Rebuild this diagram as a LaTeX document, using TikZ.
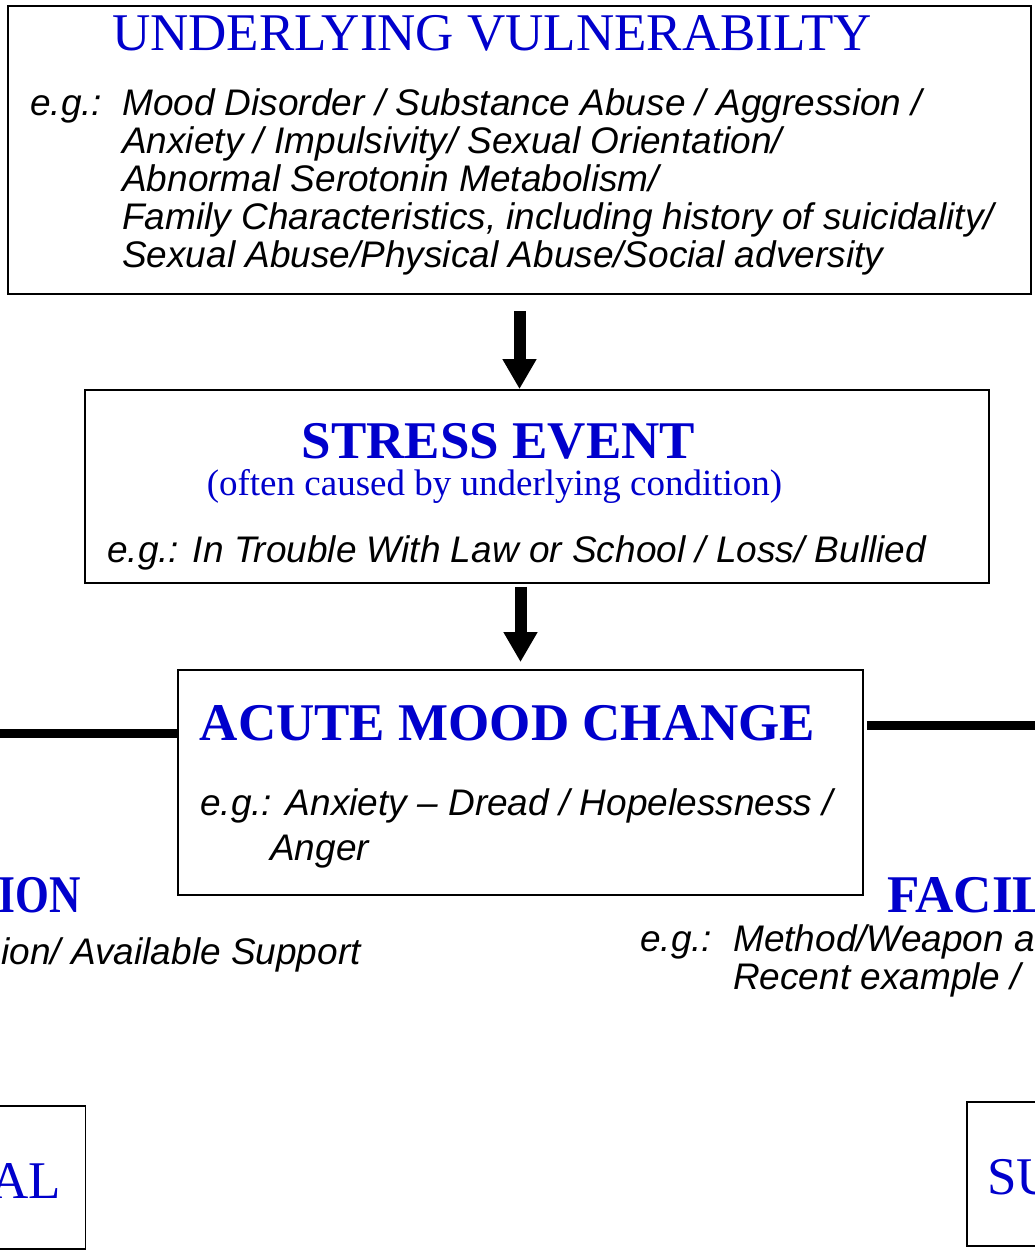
\documentclass[tikz,border=0pt]{standalone}
\usepackage{fontspec}
\usetikzlibrary{arrows.meta}
\newfontfamily\headfont{Liberation Serif}
\newfontfamily\bodyfont{Liberation Sans}
\definecolor{headblue}{RGB}{0,0,204}
\tikzset{
    box/.style={draw, rectangle, line width=1.8pt, inner sep=0pt},
    head/.style={font=\headfont\fontsize{53}{60}\selectfont\bfseries, text=headblue, inner sep=0pt},
    headlight/.style={font=\headfont\fontsize{53}{60}\selectfont, text=headblue, inner sep=0pt},
    sub/.style={font=\headfont\fontsize{37}{44}\selectfont, text=headblue, inner sep=0pt},
    body/.style={font=\bodyfont\itshape\fontsize{37}{44}\selectfont, inner sep=0pt},
    bigarrow/.style={line width=12pt, -{Triangle[width=32pt,length=30pt]}},
    bar/.style={line width=9.5pt},
}
\begin{document}
\begin{tikzpicture}[x=1pt,y=-1pt]
        \path[use as bounding box, clip] (0,0) rectangle (1035,1251);
        % boxes
        \node[box, line width=2.4pt, minimum width=1023pt, minimum height=288pt] (vuln) at (519.5,150) {};
        \node[box, minimum width=904pt, minimum height=193pt] (stress) at (537,486.5) {};
        \node[box, minimum width=685pt, minimum height=225pt] (mood) at (520.5,782.5) {};
        \node[box, minimum width=100pt, minimum height=143pt] (leftbox) at (35.5,1177.5) {};
        \node[box, minimum width=100pt, minimum height=144pt] (rightbox) at (1017,1174) {};
        % underlying vulnerability
        \node[headlight, anchor=base] (vulntitle) at (492,50) {UNDERLYING VULNERABILTY};
        \node[body, anchor=base west] (vulneg) at (30,115) {e.g.:};
        \foreach \txt [count=\i from 0] in {Mood Disorder / Substance Abuse / Aggression /,
                Anxiety / Impulsivity/ Sexual Orientation/,
                Abnormal Serotonin Metabolism/,
                {Family Characteristics, including history of suicidality/},
                Sexual Abuse/Physical Abuse/Social adversity}
            \node[body, anchor=base west] (vulnline\i) at (122,{115+38.2*\i}) {\txt};
        % stress event
        \node[head, anchor=base] (stresstitle) at (498.5,458) {STRESS EVENT};
        \node[sub, anchor=base] (stresssub) at (494.5,495) {(often caused by underlying condition)};
        \node[body, anchor=base west] (stresseg) at (107,562) {e.g.: In Trouble With Law or School / Loss/ Bullied};
        % acute mood change
        \node[head, anchor=base] (moodtitle) at (507.5,740) {ACUTE MOOD CHANGE};
        \node[body, anchor=base west] (moodeg) at (200,815) {e.g.: Anxiety – Dread / Hopelessness /};
        \node[body, anchor=base west] (moodanger) at (270,860) {Anger};
        % sides
        \node[head, anchor=base east] (lefttitle) at (81,912) {\scalebox{0.82}[1]{ION}};
        \node[body, anchor=base east] (lefteg) at (361,964) {ion/ Available Support};
        \node[head, anchor=base west] (righttitle) at (887,912) {FACIL};
        \node[body, anchor=base west] (righteg) at (640,951) {e.g.:};
        \node[body, anchor=base west] (rightline0) at (733,951) {Method/Weapon a};
        \node[body, anchor=base west] (rightline1) at (733,989) {Recent example /};
        \node[headlight, anchor=base east] (lefttext) at (61,1198) {AL};
        \node[headlight, anchor=base west] (righttext) at (987,1194) {SU};
        % connectors
        \draw[bigarrow] ([yshift=-16pt]vuln.south) -- (vuln.south |- stress.north);
        \draw[bigarrow] ([yshift=-3pt]mood.north |- stress.south) -- ([yshift=7pt]mood.north);
        \coordinate (leftend) at (0,733.5);
        \coordinate (rightend) at (1035,725.5);
        \draw[bar] (leftend) -- (leftend -| mood.west);
        \draw[bar] ([xshift=3pt]rightend -| mood.east) -- (rightend);
    \end{tikzpicture}
\end{document}
